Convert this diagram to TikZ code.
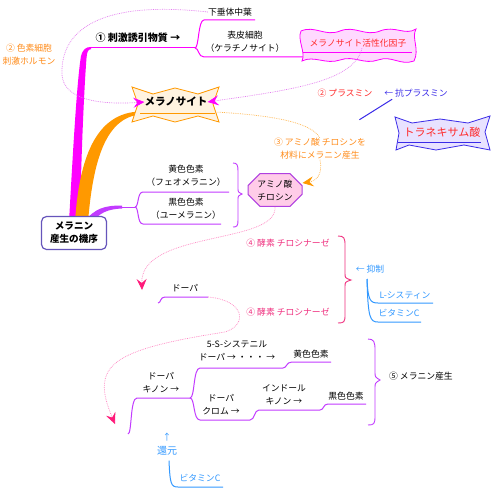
\documentclass[tikz,border=0pt]{standalone}
\usepackage{fontspec}
\setmainfont{Noto Sans CJK JP}
\usetikzlibrary{arrows.meta,shapes.misc,backgrounds,calc}
\definecolor{mag}{HTML}{FF00FF}
\definecolor{magdot}{HTML}{E47CF0}
\definecolor{org}{HTML}{FF9900}
\definecolor{orgtxt}{HTML}{FF8C1A}
\definecolor{orgdot}{HTML}{FFB850}
\definecolor{vio}{HTML}{C23BFF}
\definecolor{slate}{HTML}{6655BB}
\definecolor{redt}{HTML}{FF2A2A}
\definecolor{bluev}{HTML}{3A2BE8}
\definecolor{deeppink}{HTML}{F0307F}
\definecolor{pinkdot}{HTML}{FF88C4}
\definecolor{lblue}{HTML}{3399FF}
\definecolor{arrowpink}{HTML}{FF1A7A}
\definecolor{melfill}{HTML}{FFF3E0}
\definecolor{mactfill}{HTML}{FFD9FF}
\definecolor{tranfill}{HTML}{E8E2FF}
\definecolor{aminofill}{HTML}{FFCCE8}
\definecolor{aminoline}{HTML}{B040E0}
\tikzset{
  txt/.style={inner sep=0pt, align=center, font=\fontsize{8.8}{13}\selectfont},
  btxt/.style={inner sep=0pt, align=center, font=\fontsize{10}{13}\selectfont\bfseries},
  dotln/.style={line width=0.7pt, dash pattern=on 0.8pt off 1pt},
  thinln/.style={line width=1pt},
  tipx/.style={-{Stealth[length=11pt,width=10pt,inset=4pt,color=#1]}},
}
\begin{document}
\begin{tikzpicture}[x=1pt,y=-1pt]
\useasboundingbox (0,0) rectangle (494,492);

% ---------- nodes (text) ----------
\node[btxt, font=\fontsize{9.6}{13}\selectfont\bfseries, draw=slate, fill=white, line width=1.2pt,
      rounded corners=5pt, minimum width=65pt, minimum height=33pt] (main) at (74,233) {メラニン\\産生の機序};
\node[btxt] (stim) at (138,38) {① 刺激誘引物質 →};
\node[txt] (kasui) at (230,12) {下垂体中葉};
\node[txt] (hyohi) at (245,42) {表皮細胞\\（ケラチノサイト）};
\node[txt, text=redt] (mact) at (358,43) {メラノサイト活性化因子};
\node[txt, text=orgtxt] (hormone) at (29,55) {② 色素細胞\\刺激ホルモン};
\node[btxt, font=\fontsize{10.5}{13}\selectfont\bfseries] (mel) at (176,102) {メラノサイト};
\node[txt, text=redt] (pla) at (345,93) {② プラスミン};
\node[txt, text=bluev] (antipla) at (416,93) {← 抗プラスミン};
\node[txt, text=redt, font=\fontsize{11}{13}\selectfont] (trane) at (442,132) {トラネキサム酸};
\node[txt, text=orgtxt] (lab3) at (320,149) {③ アミノ酸 チロシンを\\材料にメラニン産生};
\node[txt] (yellow1) at (186,176) {黄色色素\\（フェオメラニン）};
\node[txt] (black1) at (186,209) {黒色色素\\（ユーメラニン）};
\node[txt, draw=aminoline, fill=aminofill, line width=1pt, chamfered rectangle, chamfered rectangle xsep=6pt,
      chamfered rectangle ysep=6pt, minimum width=54pt, minimum height=31pt] (amino) at (275,190) {アミノ酸\\チロシン};
\node[txt, text=deeppink] (enz1) at (288,243) {④ 酵素 チロシナーゼ};
\node[txt, text=deeppink] (enz2) at (288,312) {④ 酵素 チロシナーゼ};
\node[txt] (dopa1) at (185,288) {ドーパ};
\node[txt, text=lblue] (yoku) at (370,269) {← 抑制};
\node[txt, text=lblue] (lcys) at (405,295) {L-システィン};
\node[txt, text=lblue] (vitc1) at (399,313) {ビタミンC};
\node[txt] (dopaq) at (161,383) {ドーパ\\キノン →};
\node[txt] (cys) at (237,351) {5-S-システニル\\ドーパ → ・・・ →};
\node[txt] (yellow2) at (311,354) {黄色色素};
\node[txt] (dchrome) at (221,405) {ドーパ\\クロム →};
\node[txt] (indole) at (284,395) {インドール\\キノン →};
\node[txt] (black2) at (346,396) {黒色色素};
\node[txt] (mel5) at (421,376) {⑤ メラニン産生};
\node[txt, text=lblue] (uparr) at (167,437) {↑};
\node[txt, text=lblue, font=\fontsize{10}{13}\selectfont] (kangen) at (167,451) {還元};
\node[txt, text=lblue] (vitc2) at (200,478) {ビタミンC};

% ---------- shapes and branches behind text ----------
\begin{pgfonlayer}{background}
  \fill[white] (0,0) rectangle (494,492);
  % main thick branches
  \fill[mag] (69,222) .. controls (73,150) and (77,80) .. (81,56) .. controls (83,49) and (86,47) .. (91,47)
     -- (91,49.2) .. controls (88,49.2) and (87,52) .. (86.5,58) .. controls (84,90) and (81,160) .. (80,222) -- cycle;
  \fill[org] (75,222) .. controls (79,160) and (95,112) .. (141,111.5) -- (141,114.5)
     .. controls (106,117) and (93,160) .. (88,222) -- cycle;
  \fill[vio] (84,222) .. controls (95,208) and (105,205.5) .. (122,205.5) -- (122,208.5)
     .. controls (108,209) and (99,213) .. (93,222) -- cycle;

  % (1) branch
  \coordinate (f1) at (195,48);
  \draw[mag, thinln] (91,48) -- (f1);
  \draw[mag, thinln] (f1) .. controls (199,48) and (198,20) .. (204,20) -- (255,20);
  \draw[mag, thinln] (f1) .. controls (199,48) and (198,57) .. (204,57) -- (303,57);

  % wavy box (melanocyte activating factor)
  \draw[mag, fill=mactfill, line width=0.8pt]
    (301,31) .. controls (315,25) and (325,37) .. (340,31) .. controls (355,25) and (365,37) .. (380,31)
    .. controls (395,25) and (405,36) .. (416,29)
    .. controls (411,38) and (420,49) .. (414,61)
    .. controls (400,66) and (392,55) .. (378,60) .. controls (364,65) and (354,55) .. (340,60)
    .. controls (326,65) and (314,55) .. (302,61)
    .. controls (306,52) and (297,40) .. cycle;
  \draw[mag, thinln] (303,52.5) -- (412,52.5);

  % melanocyte star
  \draw[org, fill=melfill, line width=0.8pt]
    (132,87) -- (153,94) -- (175,88) -- (198,94) -- (219,87) -- (213,104) -- (219,122)
    -- (198,116) -- (175,122) -- (153,116) -- (132,122) -- (138,104) -- cycle;
  \draw[org, thinln] (140,113) -- (215,113);

  % tranexamic acid box
  \draw[bluev, fill=tranfill, line width=0.8pt]
    (395,117) -- (412,123) -- (440,119) -- (468,123) -- (490,116) -- (485,132) -- (490,150)
    -- (464,145) -- (436,150) -- (409,145) -- (396,150) -- (399,133) -- cycle;
  \draw[bluev, thinln] (398,142) -- (481,142);
  \draw[bluev, thinln] ($(antipla.south west)+(8,2)$) -- ($(trane.north west)+(-44,-7)$);

  % pigment fork
  \coordinate (f2) at (135,207);
  \draw[vio, thinln] (122,207) -- (f2);
  \draw[vio, thinln] (f2) .. controls (139,207) and (137,192) .. (143,192) -- (229,192);
  \draw[vio, thinln] (f2) .. controls (139,207) and (137,224) .. (143,224) -- (221,224);
  \draw[vio, line width=0.9pt] (233,163) .. controls (237,163) and (238,165) .. (238,171) -- (238,188)
     .. controls (238,192) .. (242,194) .. controls (238,196) .. (238,200) -- (238,220)
     .. controls (238,226) and (237,227) .. (233,227);

  % dopa underline
  \draw[vio, thinln] (158,303) .. controls (161,303) and (160,297) .. (165,297) -- (208,297);

  % enzyme bracket
  \draw[deeppink, line width=0.9pt] (338,236) .. controls (344,236) and (345,238) .. (345,245) -- (345,273)
     .. controls (345,278) .. (351,280) .. controls (345,282) .. (345,287) -- (345,315)
     .. controls (345,322) and (344,323) .. (338,323);

  % inhibitors
  \coordinate (f3) at (367,279);
  \draw[lblue, thinln] (f3) .. controls (368,300) and (370,303) .. (378,303) -- (433,303);
  \draw[lblue, thinln] (f3) .. controls (368,318) and (370,322) .. (378,322) -- (421,322);

  % bottom tree
  \coordinate (f4) at (190,398);
  \draw[vio, thinln] (128,434) .. controls (132,434) and (130,398) .. (137,398) -- (f4);
  \draw[vio, thinln] (f4) .. controls (195,398) and (193,368) .. (200,368) -- (283,368)
     .. controls (287,368) and (286,362) .. (292,362) -- (331,362);
  \draw[vio, thinln] (f4) .. controls (195,398) and (193,420) .. (200,420) -- (250,420)
     .. controls (255,420) and (254,410) .. (259,410) -- (320,410)
     .. controls (324,410) and (323,404) .. (328,404) -- (366,404);
  \draw[vio, line width=0.9pt] (368,339) .. controls (374,339) and (375,342) .. (375,350) -- (375,372)
     .. controls (375,377) .. (380,380) .. controls (375,383) .. (375,388) -- (375,416)
     .. controls (375,424) and (374,425) .. (368,425);

  % vitamin C (reduction)
  \draw[lblue, thinln] ($(kangen.south)+(2,5)$) .. controls (170,484) and (171,487) .. (178,487) -- (223,487);
\end{pgfonlayer}

% ---------- dotted connectors ----------
\draw[magdot, dotln, tipx=mag] (kasui.west) .. controls (100,0) and (60,30) .. (62,75)
   .. controls (64,100) and (100,105) .. (mel.west);
\draw[magdot, dotln, tipx=mag] ($(mact.south)+(4,1)$) .. controls (354,82) and (290,90) .. (mel.east);
\draw[orgdot, dotln] (215,112) .. controls (270,115) and (312,122) .. (lab3.north);
\draw[orgdot, dotln, tipx=org] (lab3.south) .. controls (323,175) and (316,181) .. ($(amino.east)+(0,-7)$);
\coordinate (tipA) at (142,290);
\draw[pinkdot, dotln, tipx=arrowpink] (amino.south) .. controls (278,245) and (140,230) .. (tipA);
\coordinate (tipB) at (115,424);
\draw[pinkdot, dotln, tipx=arrowpink] (208,297) .. controls (245,300) and (248,325) .. (225,332)
   .. controls (110,350) and (90,365) .. (tipB);
\end{tikzpicture}
\end{document}
